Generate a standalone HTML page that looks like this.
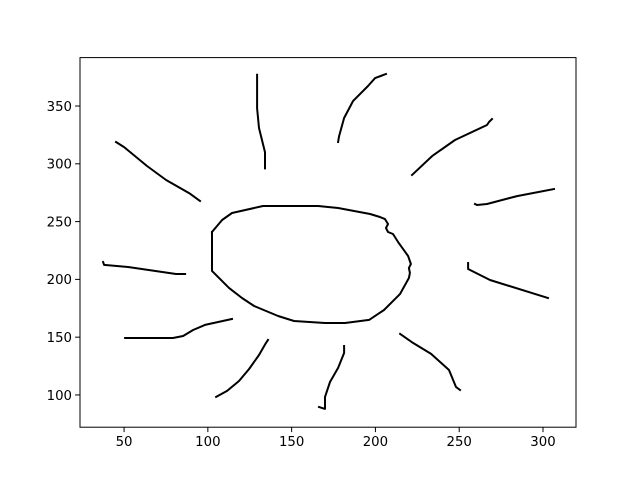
<!DOCTYPE html>
<html><head><meta charset="utf-8"><style>
html,body{margin:0;padding:0;background:#fff;}
svg{display:block;font-family:"DejaVu Sans","Liberation Sans",sans-serif;}
</style></head><body>
<svg id="chart" width="640" height="480" viewBox="0 0 640 480"></svg>
<script>
const xTicks=[50,100,150,200,250,300];
const yTicks=[100,150,200,250,300,350];
const strokeTop=[[129.4,377],[129.4,348],[130.5,331],[134.1,310],[134.1,296]];
const strokeTopRight=[[206.3,377.7],[199.8,374.2],[195.6,367.3],[186.6,354.3],[181.3,339.6],[178.3,324],[177.7,318.9]];
const strokeUpperRight=[[269.6,338.8],[267.8,336.2],[266.6,333.6],[247.5,320.6],[233.8,306.7],[221.8,290.3]];
const strokeRightHigh=[[306.6,278.2],[284.5,272.1],[266.6,265.2],[260.6,264.4],[259.4,265.2]];
const strokeRightLow=[[255.3,214.2],[255.3,209],[268.4,199.5],[303,183.9]];
const strokeLowerRight=[[250.5,104.3],[248.1,106.9],[243.9,121.6],[233.2,135.5],[222.4,145],[214.7,152.8]];
const strokeBottom=[[181.3,142.4],[181.3,136.3],[177.7,123.4],[172.9,111.2],[169.9,98.3],[169.9,87.9],[166.3,89.6]];
const strokeLowerLeft=[[135.9,147.6],[134.7,145],[130.5,134.6],[124.6,122.5],[118.6,112.1],[111.5,103.5],[104.9,98.3]];
const strokeLeftLow=[[50.6,149.3],[52.4,149.3],[79.2,149.3],[85.2,151],[91.2,156.2],[98.3,160.6],[114.4,165.7]];
const strokeLeft=[[37.5,215],[38.1,212.5],[52.4,210.7],[81,204.7],[86.4,204.7]];
const strokeUpperLeft=[[45.2,318.9],[50,314.5],[63.7,298.1],[75.1,286],[88.8,274.7],[95.3,267.8]];
const sunBody=[[102.5,241],[108.5,251.4],[114.4,257.4],[132.9,263.5],[165.8,263.5],[177.7,261.8],[196.8,256.6],[202.7,254],[205.7,252.2],[207.5,247.9],[206.3,244.5],[207.5,241],[210.5,239.3],[213.5,232.4],[219.5,220.2],[221.2,213.3],[220,209.9],[220.6,205.5],[220,201.2],[214.7,187.4],[205.1,173.5],[196.2,164.9],[181.9,162.3],[169.9,162.3],[151.4,164],[141.9,168.3],[127.6,177],[120.4,183.9],[112.6,192.6],[102.5,207.3],[102.5,241]];
const strokes=[["sun-body",sunBody],["ray-top",strokeTop],["ray-top-right",strokeTopRight],["ray-upper-right",strokeUpperRight],["ray-right-high",strokeRightHigh],["ray-right-low",strokeRightLow],["ray-lower-right",strokeLowerRight],["ray-bottom",strokeBottom],["ray-lower-left",strokeLowerLeft],["ray-left-low",strokeLeftLow],["ray-left",strokeLeft],["ray-upper-left",strokeUpperLeft]];

const L=80,R=576,T=57.6,B=427.2;
const xmin=23.7,xmax=319.7,ymin=72.1,ymax=391.9;
const sx=v=>L+(v-xmin)/(xmax-xmin)*(R-L);
const sy=v=>B-(v-ymin)/(ymax-ymin)*(B-T);
const svg=document.getElementById('chart');
const NS='http://www.w3.org/2000/svg';
function mk(t,a){const e=document.createElementNS(NS,t);for(const k in a)e.setAttribute(k,a[k]);svg.appendChild(e);return e;}

strokes.forEach(([name,pts])=>{
  const p=mk('polyline',{points:pts.map(q=>sx(q[0]).toFixed(1)+','+sy(q[1]).toFixed(1)).join(' '),fill:'none',stroke:'#000','stroke-width':2,'stroke-linejoin':'round','stroke-linecap':'square'});
  
  
});

const frame=mk('rect',{x:L,y:T,width:R-L,height:B-T,fill:'none',stroke:'#000','stroke-width':1});



xTicks.forEach(v=>{
  const x=sx(v);
  const t=mk('line',{x1:x,y1:B,x2:x,y2:B+4.9,stroke:'#000','stroke-width':1});
  
  
  const l=mk('text',{x:x,y:B+19,'font-size':13.3,'text-anchor':'middle',fill:'#000'});
  l.textContent=v;
  
  
});
yTicks.forEach(v=>{
  const y=sy(v);
  const t=mk('line',{x1:L-4.9,y1:y,x2:L,y2:y,stroke:'#000','stroke-width':1});
  
  
  const l=mk('text',{x:L-8,y:y+4.8,'font-size':13.3,'text-anchor':'end',fill:'#000'});
  l.textContent=v;
  
  
});
</script>
</body></html>
